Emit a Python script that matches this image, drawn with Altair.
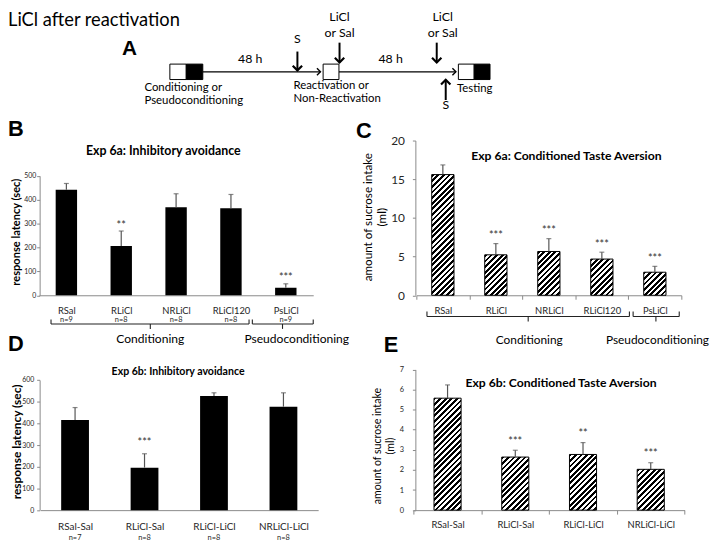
import math
import altair as alt
import pandas as pd

FONT = "Lato"
LETTER_FONT = "Liberation Sans"
AXIS_GRAY = "#8a8a8a"
ERR = "#555555"
LABEL = "#262626"

# ---------------- data ----------------
b_groups = ["RSal", "RLiCl", "NRLiCl", "RLiCl120", "PsLiCl"]
b_mean = [442, 206, 368, 364, 32]
b_sem = [26, 63, 57, 58, 16]
b_n = ["n=9", "n=8", "n=8", "n=8", "n=9"]
b_sig = ["", "**", "", "", "***"]

c_groups = ["RSal", "RLiCl", "NRLiCl", "RLiCl120", "PsLiCl"]
c_mean = [15.6, 5.23, 5.66, 4.68, 2.98]
c_sem = [1.25, 1.45, 1.66, 0.89, 0.76]
c_sig = ["", "***", "***", "***", "***"]

d_groups = ["RSal-Sal", "RLiCl-Sal", "RLiCl-LiCl", "NRLiCl-LiCl"]
d_mean = [416, 196, 526, 477]
d_sem = [57, 64, 15, 64]
d_n = ["n=7", "n=8", "n=8", "n=8"]
d_sig = ["", "***", "", ""]

e_groups = ["RSal-Sal", "RLiCl-Sal", "RLiCl-LiCl", "NRLiCl-LiCl"]
e_mean = [5.57, 2.64, 2.77, 2.03]
e_sem = [0.66, 0.34, 0.59, 0.33]
e_sig = ["", "***", "**", "***"]

# group braces under panels B and C (in units of category slots)
brace_labels = ["Conditioning", "Pseudoconditioning"]
b_brace_from = [0.22, 3.89]
b_brace_to = [3.83, 5.0]
b_brace_mid = [2.03, 4.44]
b_brace_text = [2.03, 4.70]
c_brace_from = [0.20, 4.09]
c_brace_to = [4.02, 4.96]
c_brace_mid = [2.11, 4.52]
c_brace_text = [2.13, 4.55]

# protocol timeline (panel A)
a_box_x0 = [171.7, 188.3, 326.7, 463.5, 479.5]
a_box_x1 = [188.3, 205.0, 342.7, 479.5, 495.5]
a_box_fill = ["white", "black", "white", "white", "black"]
a_line_x0 = [205.0, 342.7]
a_line_x1 = [324.0, 461.0]
a_down_x = [300.7, 343.3, 441.6]
a_down_top = [49, 40, 40]
a_down_tip = [68, 60, 60]
a_up_x = [450.7]
a_center_text = ["48 h", "48 h", "S", "S", "LiCl", "or Sal", "LiCl", "or Sal"]
a_center_x = [253, 395, 300.7, 450.7, 343.3, 343.3, 447.6, 447.6]
a_center_y = [56.5, 56.5, 36, 103, 14.5, 30, 14.5, 30]
a_left_text = ["Conditioning or", "Pseudoconditioning", "Reactivation or", "Non-Reactivation", "Testing"]
a_left_x = [146, 146, 296.7, 296.7, 462]
a_left_y = [86.0, 99.0, 83.7, 96.7, 87.4]

ONE = alt.Data(values=[{}])

# cell origins (page pixels) of the 2-column grid
COL1, COL2 = 40.0, 420.0
ROW0, ROW1, ROW2 = 8.0, 139.0, 295.5


def stripe_fill(w, h, period=4.0, dark=0.5):
    span = (w + h) / math.sqrt(2)
    n = span / period
    stops = []
    k = 0
    while k < n:
        a = k / n
        m = min((k + dark) / n, 1.0)
        b = min((k + 1) / n, 1.0)
        stops += [
            alt.GradientStop(color="black", offset=a),
            alt.GradientStop(color="black", offset=m),
            alt.GradientStop(color="white", offset=m),
            alt.GradientStop(color="white", offset=b),
        ]
        k += 1
    den = w * w + h * h
    return alt.LinearGradient(gradient="linear", stops=stops, x1=0, y1=0,
                              x2=(w + h) * w / den, y2=(w + h) * h / den)


def text_at(txt, x, y, size, bold=False, angle=0, align="center", font=FONT, color="black"):
    kw = dict(text=txt, font=font, fontSize=size, align=align, baseline="middle", color=color)
    if bold:
        kw["fontWeight"] = "bold"
    if angle:
        kw["angle"] = angle
    return alt.Chart(ONE).mark_text(**kw).encode(x=alt.value(x), y=alt.value(y))


def bar_panel(groups, mean, sem, sig, cfg, n_labels=None, braces=None):
    W, H, ox, oy = cfg["W"], cfg["H"], cfg["ox"], cfg["oy"]
    xr = [cfg["x0"] - ox, cfg["x1"] - ox]
    yr = [cfg["yzero"] - oy, cfg["ytop"] - oy]
    df = pd.DataFrame({"group": groups, "mean": mean, "sem": sem, "sig": sig,
                       "n": n_labels if n_labels else [""] * len(groups)})
    df["top"] = df["mean"] + df["sem"]

    xs = alt.Scale(domain=groups, range=xr, paddingInner=0, paddingOuter=0)
    ys = alt.Scale(domain=[0, cfg["ymax"]], range=yr, nice=False, zero=False)
    xaxis = alt.Axis(orient="bottom", title=None, labelAngle=0,
                     labelFont=FONT, labelFontSize=cfg["xlab"], labelColor=LABEL,
                     labelPadding=cfg["xpad"], domainColor=AXIS_GRAY, domainWidth=1,
                     ticks=cfg["xticks"], tickBand="extent", tickColor=AXIS_GRAY,
                     tickSize=4, labelLimit=0, grid=False)
    yaxis = alt.Axis(orient="left", values=cfg["yvals"], title=None, grid=False,
                     labelFont=FONT, labelFontSize=cfg["ylab"], labelColor=LABEL,
                     labelPadding=cfg["ypad"], domainColor=AXIS_GRAY, tickColor=AXIS_GRAY,
                     tickSize=3)

    def X(ax=None):
        return alt.X("group:N", scale=xs, axis=ax, sort=groups)

    def Y(f, ax=None):
        return alt.Y(f + ":Q", scale=ys, axis=ax)

    layers = []
    bw = cfg["bandw"]
    if cfg["hatched"]:
        step = (xr[1] - xr[0]) / len(groups)
        w = bw * step
        for i, g in enumerate(groups):
            h = mean[i] / cfg["ymax"] * (yr[0] - yr[1])
            layers.append(
                alt.Chart(df).transform_filter(alt.datum.group == g)
                .mark_bar(fill=stripe_fill(w, h), stroke="black", strokeWidth=1,
                          width={"band": bw})
                .encode(x=X(xaxis if i == 0 else None), y=Y("mean", yaxis if i == 0 else None))
            )
    else:
        layers.append(
            alt.Chart(df).mark_bar(color="black", width={"band": bw})
            .encode(x=X(xaxis), y=Y("mean", yaxis))
        )
    layers.append(alt.Chart(df).mark_rule(color=ERR, strokeWidth=1.2)
                  .encode(x=X(), y=Y("mean"), y2=alt.Y2("top:Q")))
    layers.append(alt.Chart(df).mark_tick(color=ERR, thickness=1.2, size=cfg["cap"])
                  .encode(x=X(), y=Y("top")))
    layers.append(alt.Chart(df).mark_text(font=FONT, fontSize=cfg["starsize"], color="#333",
                                          dy=cfg["stardy"], baseline="middle")
                  .encode(x=X(), y=Y("top"), text="sig:N"))
    if n_labels:
        layers.append(alt.Chart(df).mark_text(font=FONT, fontSize=7.5, color=LABEL, baseline="middle")
                      .encode(x=X(), y=alt.value(cfg["ny"] - oy), text="n:N"))
    if braces:
        bdf = pd.DataFrame({"a": braces["from"], "b": braces["to"], "m": braces["mid"],
                            "t": braces["text"], "label": brace_labels})
        qs = alt.Scale(domain=[0, len(groups)], range=xr, nice=False, zero=False)
        ly, ty, by = braces["line"] - oy, braces["top"] - oy, braces["bottom"] - oy
        bc = dict(color="#222", strokeWidth=1.1)
        layers.append(alt.Chart(bdf).mark_rule(**bc).encode(
            x=alt.X("a:Q", scale=qs, axis=None), x2="b:Q", y=alt.value(ly)))
        layers.append(alt.Chart(bdf).mark_rule(**bc).encode(
            x=alt.X("a:Q", scale=qs, axis=None), y=alt.value(ty), y2=alt.value(ly)))
        layers.append(alt.Chart(bdf).mark_rule(**bc).encode(
            x=alt.X("b:Q", scale=qs, axis=None), y=alt.value(ty), y2=alt.value(ly)))
        layers.append(alt.Chart(bdf).mark_rule(**bc).encode(
            x=alt.X("m:Q", scale=qs, axis=None), y=alt.value(ly), y2=alt.value(by)))
        layers.append(alt.Chart(bdf).mark_text(font=FONT, fontSize=braces["fs"], color="black",
                                               baseline="middle")
                      .encode(x=alt.X("t:Q", scale=qs, axis=None), y=alt.value(braces["ty"] - oy),
                              text="label:N"))
    # titles and labels
    layers.append(text_at(cfg["title"], cfg["title_x"] - ox, cfg["title_y"] - oy,
                          cfg["title_fs"], bold=True))
    layers.append(text_at(cfg["letter"], cfg["letter_x"] - ox, cfg["letter_y"] - oy, 22,
                          bold=True, align="left", font=LETTER_FONT))
    for txt, tx, ty in cfg["ytitle"]:
        layers.append(text_at(txt, tx - ox, ty - oy, cfg["ytitle_fs"], bold=cfg["ytitle_bold"],
                              angle=270))
    return (alt.layer(*layers)
            .resolve_scale(x="independent", y="independent")
            .properties(width=W, height=H))


H1 = 295.5 - ROW1
H2 = 512.3 - ROW2
cfgB = dict(W=COL2 - COL1, H=H1, ox=COL1, oy=ROW1, x0=39.3, x1=316.7, yzero=295.5, ytop=174.7,
            ymax=500, yvals=[0, 100, 200, 300, 400, 500], ylab=7, ypad=1, bandw=0.39,
            xlab=9.5, xpad=10, xticks=False, cap=5, stardy=-5.5, starsize=11, ny=321,
            hatched=False,
            title="Exp 6a: Inhibitory avoidance", title_x=165, title_y=150, title_fs=12.5,
            letter="B", letter_x=8, letter_y=127,
            ytitle=[("response latency (sec)", 17, 231.7)], ytitle_fs=11.2, ytitle_bold=True)
cfgC = dict(W=300, H=H1, ox=COL2, oy=ROW1, x0=421, x1=689, yzero=295.5, ytop=139, ymax=20,
            yvals=[0, 5, 10, 15, 20], ylab=12, ypad=8, bandw=0.42, xlab=9.5, xpad=6,
            xticks=True, cap=5, stardy=-7.5, starsize=11, hatched=True,
            title="Exp 6a: Conditioned Taste Aversion", title_x=572.7, title_y=155, title_fs=12.3,
            letter="C", letter_x=360, letter_y=129,
            ytitle=[("amount of sucrose intake", 371.7, 216.5), ("(ml)", 386, 216.5)],
            ytitle_fs=11.8, ytitle_bold=False)
cfgD = dict(W=COL2 - COL1, H=H2, ox=COL1, oy=ROW2, x0=40.7, x1=321.7, yzero=512.3, ytop=380.7,
            ymax=600, yvals=[0, 100, 200, 300, 400, 500, 600], ylab=7, ypad=3, bandw=0.4,
            xlab=10, xpad=12, xticks=False, cap=5, stardy=-11, starsize=11, ny=540,
            hatched=False,
            title="Exp 6b: Inhibitory avoidance", title_x=180, title_y=373, title_fs=10.7,
            letter="D", letter_x=8, letter_y=344,
            ytitle=[("response latency (sec)", 17, 443.3)], ytitle_fs=12, ytitle_bold=True)
cfgE = dict(W=300, H=H2, ox=COL2, oy=ROW2, x0=418.3, x1=692.3, yzero=512.3, ytop=370, ymax=7,
            yvals=[0, 1, 2, 3, 4, 5, 6, 7], ylab=7.5, ypad=9, bandw=0.4, xlab=9.5, xpad=6,
            xticks=True, cap=5, stardy=-8.5, starsize=11, hatched=True,
            title="Exp 6b: Conditioned Taste Aversion", title_x=567.3, title_y=383.3, title_fs=12.3,
            letter="E", letter_x=388, letter_y=345,
            ytitle=[("amount of sucrose intake", 382.7, 447.5), ("(ml)", 395, 447.5)],
            ytitle_fs=10.7, ytitle_bold=False)

braceB = {"from": b_brace_from, "to": b_brace_to, "mid": b_brace_mid, "text": b_brace_text,
          "line": 324.5, "top": 320, "bottom": 329.5, "ty": 340, "fs": 12.2}
braceC = {"from": c_brace_from, "to": c_brace_to, "mid": c_brace_mid, "text": c_brace_text,
          "line": 317, "top": 312, "bottom": 322, "ty": 340.5, "fs": 12}

panelB = bar_panel(b_groups, b_mean, b_sem, b_sig, cfgB, n_labels=b_n, braces=braceB)
panelC = bar_panel(c_groups, c_mean, c_sem, c_sig, cfgC, braces=braceC)
panelD = bar_panel(d_groups, d_mean, d_sem, d_sig, cfgD, n_labels=d_n)
panelE = bar_panel(e_groups, e_mean, e_sem, e_sig, cfgE)


# ---------------- panel A: protocol diagram ----------------
def diagram():
    xs = alt.Scale(domain=[0, 720], range=[-COL1, 720 - COL1], nice=False, zero=False)
    ys = alt.Scale(domain=[ROW0, ROW1], range=[0, ROW1 - ROW0], nice=False, zero=False)
    X = lambda f: alt.X(f, scale=xs, axis=None)
    Y = lambda f: alt.Y(f, scale=ys, axis=None)
    boxes = pd.DataFrame({"x0": a_box_x0, "x1": a_box_x1, "fill": a_box_fill,
                          "y0": [61.7] * 5, "y1": [77.3] * 5})
    lines = pd.DataFrame({"x0": a_line_x0, "x1": a_line_x1, "y": [69.5, 69.5]})
    downs = pd.DataFrame({"x": a_down_x, "y0": a_down_top, "y1": a_down_tip})
    ups = pd.DataFrame({"x": a_up_x, "y0": [98], "y1": [77.5]})
    ctext = pd.DataFrame({"t": a_center_text, "x": a_center_x, "y": a_center_y})
    ltext = pd.DataFrame({"t": a_left_text, "x": a_left_x, "y": a_left_y})
    layers = [
        alt.Chart(lines).mark_rule(color="black", strokeWidth=1.4).encode(
            x=X("x0:Q"), x2="x1:Q", y=Y("y:Q")),
        alt.Chart(lines).mark_point(shape="M-1,-1L0,0L-1,1", filled=False, color="black",
                                    strokeWidth=1.4, size=50, opacity=1).encode(
            x=X("x1:Q"), y=Y("y:Q")),
        alt.Chart(boxes).mark_rect(stroke="black", strokeWidth=1).encode(
            x=X("x0:Q"), x2="x1:Q", y=Y("y0:Q"), y2="y1:Q", fill=alt.Fill("fill:N", scale=None)),
        alt.Chart(downs).mark_rule(color="black", strokeWidth=2).encode(
            x=X("x:Q"), y=Y("y0:Q"), y2="y1:Q"),
        alt.Chart(downs).mark_point(shape="M-1,-1L0,0L1,-1", filled=False, color="black",
                                    strokeWidth=2.2, size=90, opacity=1).encode(
            x=X("x:Q"), y=Y("y1:Q")),
        alt.Chart(ups).mark_rule(color="black", strokeWidth=2).encode(
            x=X("x:Q"), y=Y("y0:Q"), y2="y1:Q"),
        alt.Chart(ups).mark_point(shape="M-1,1L0,0L1,1", filled=False, color="black",
                                  strokeWidth=2.2, size=90, opacity=1).encode(
            x=X("x:Q"), y=Y("y1:Q")),
        alt.Chart(ctext).mark_text(font=FONT, fontSize=12.5, baseline="middle").encode(
            x=X("x:Q"), y=Y("y:Q"), text="t:N"),
        alt.Chart(ltext).mark_text(font=FONT, fontSize=11.5, baseline="middle", align="left").encode(
            x=X("x:Q"), y=Y("y:Q"), text="t:N"),
        text_at("LiCl after reactivation", 8 - COL1, 17.5 - ROW0, 18.5, align="left"),
        text_at("A", 131 - COL1, 46 - ROW0, 21, bold=True, font=LETTER_FONT),
    ]
    return alt.layer(*layers).properties(width=COL2 - COL1, height=ROW1 - ROW0)


panelA = diagram()
panelA_right = alt.Chart(ONE).mark_text(text="", fontSize=1).encode(
    x=alt.value(20), y=alt.value(60)).properties(width=300, height=ROW1 - ROW0)

chart = (
    alt.concat(panelA, panelA_right, panelB, panelC, panelD, panelE,
               columns=2, spacing=0, bounds="flush")
    .properties(padding=0, background="white")
    .configure_view(stroke=None)
)

chart.save("out.html", embed_options={"renderer": "svg", "actions": False})
